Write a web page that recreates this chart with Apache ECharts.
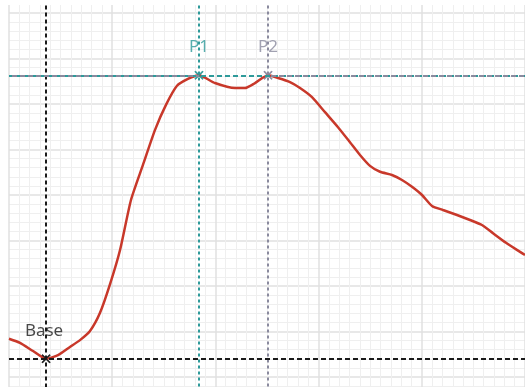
<!DOCTYPE html>
<html>
<head>
<meta charset="utf-8">
<script src="https://cdn.jsdelivr.net/npm/echarts@6/dist/echarts.min.js"></script>
<style>
  html, body { margin: 0; padding: 0; background: #ffffff; overflow: hidden; }
  /* the plot runs on below the bottom of the window */
  #chart { width: 525px; height: 423px; }
</style>
</head>
<body>
<div id="chart"></div>
<script>
// Response curve samples (x position, level)
const curveX = [0, 10.7, 23.3, 35.9, 47.5, 59.1, 68.8, 78.5, 88.2, 97.9, 107.6, 118.2, 129.8, 141.5,
  152.1, 162.8, 173.4, 184.1, 199.6, 219.0, 228.7, 238.4, 251.0, 260.7, 272.3, 282.0, 293.6,
  306.2, 318.8, 330.4, 340.1, 349.8, 359.5, 371.1, 380.8, 390.5, 400.2, 409.9, 420.5, 434.1,
  446.7, 458.3, 469.0, 481.6, 495.2, 500];
const curveY = [18.4, 17.5, 15.7, 14.0, 14.8, 16.6, 18.1, 20.1, 24.1, 30.4, 37.9, 48.9, 56.6, 64.3,
  69.8, 74.0, 75.5, 76.3, 74.6, 73.5, 73.5, 74.6, 76.3, 75.7, 74.8, 73.5, 71.5,
  68.2, 64.9, 61.6, 58.8, 56.4, 55.1, 54.4, 53.3, 51.8, 50.0, 47.6, 46.7, 45.6,
  44.5, 43.4, 41.6, 39.5, 37.5, 36.8];

// Reference points
const markNames = ['Base', 'P1', 'P2'];
const markX = [35.9, 184.1, 251.0];
const markY = [14.0, 76.3, 76.3];
const markColors = ['#1a1a1a', '#2e9a9a', '#8a8a9e'];

const X_MIN = 0, X_MAX = 500;

const chart = echarts.init(document.getElementById('chart'), null, { renderer: 'canvas' });

const crossSymbol = 'path://M0,0L10,10M10,0L0,10';

const guideLines = [];
markNames.forEach((name, i) => {
  guideLines.push({
    xAxis: markX[i],
    lineStyle: { color: markColors[i], type: i === 0 ? [4, 3] : [3, 3], width: 2 }
  });
});
// Base level line
guideLines.push({
  yAxis: markY[0],
  lineStyle: { color: markColors[0], type: [5, 3], width: 2 }
});
// Peak level line (P1)
guideLines.push({
  yAxis: markY[1],
  lineStyle: { color: markColors[1], type: [5, 3], width: 2 }
});
// Peak level line (P2), outside the P1–P2 span
guideLines.push([
  { coord: [X_MIN, markY[2]], lineStyle: { color: markColors[2], type: [5, 3], dashOffset: 5, width: 2 } },
  { coord: [markX[1], markY[2]] }
]);
guideLines.push([
  { coord: [markX[2], markY[2]], lineStyle: { color: markColors[2], type: [5, 3], dashOffset: 5, width: 2 } },
  { coord: [X_MAX, markY[2]] }
]);

chart.setOption({
  animation: false,
  grid: { left: 9, right: 0, top: 5, bottom: 0.5, containLabel: false },
  xAxis: {
    type: 'value',
    min: X_MIN,
    max: X_MAX,
    interval: 100,
    axisLine: { show: false },
    axisTick: { show: false },
    axisLabel: { show: false },
    splitLine: { show: true, lineStyle: { color: '#e0e0e0', width: 1.5 } },
    minorTick: { show: false, splitNumber: 10 },
    minorSplitLine: { show: true, lineStyle: { color: '#efefef', width: 1 } }
  },
  yAxis: {
    type: 'value',
    min: 0,
    max: 91.75,
    interval: 10,
    axisLine: { show: false },
    axisTick: { show: false },
    axisLabel: { show: false },
    splitLine: { show: true, showMaxLine: false, lineStyle: { color: '#e0e0e0', width: 1.5 } },
    minorTick: { show: false, splitNumber: 5 },
    minorSplitLine: { show: true, lineStyle: { color: '#efefef', width: 1 } }
  },
  series: [
    {
      name: 'guides',
      type: 'scatter',
      z: 2,
      symbol: crossSymbol,
      symbolSize: 8,
      data: markNames.map((n, i) => ({
        name: n,
        value: [markX[i], markY[i]],
        itemStyle: { color: 'none', borderColor: markColors[i], borderWidth: 1.5 },
        label: {
          show: true,
          formatter: n,
          position: 'top',
          distance: 13,
          offset: i === 0 ? [-2, 0] : [0, 0],
          color: markColors[i],
          fontFamily: 'Noto Sans',
          fontSize: 17
        }
      })),
      markLine: {
        silent: true,
        symbol: ['none', 'none'],
        label: { show: false },
        data: guideLines
      }
    },
    {
      name: 'curve',
      type: 'line',
      z: 3,
      data: curveX.map((x, i) => [x, curveY[i]]),
      showSymbol: false,
      smooth: 0.2,
      lineStyle: { color: '#c8382a', width: 2.5 }
    },
    {
      name: 'markers',
      type: 'scatter',
      z: 4,
      symbol: crossSymbol,
      symbolSize: 8,
      data: markNames.map((n, i) => ({
        value: [markX[i], markY[i]],
        itemStyle: { color: 'none', borderColor: markColors[i], borderWidth: 1.5 }
      }))
    }
  ]
});
</script>
</body>
</html>
